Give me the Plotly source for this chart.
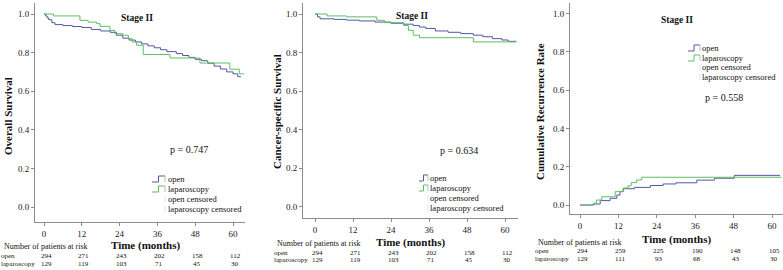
import plotly.graph_objects as go

W, H = 783, 270

# ---------------- data ----------------
months = [0, 12, 24, 36, 48, 60]

os_open_t = [0, 0.5, 1, 1.5, 2.5, 3.5, 6, 9, 12, 15, 18, 21, 23, 25, 27, 29, 31, 33, 35, 37, 39, 42, 44, 46, 48, 50, 52, 54, 56, 58, 60, 61.5, 62.5]
os_open_s = [1.0, 0.99, 0.98, 0.97, 0.955, 0.945, 0.94, 0.935, 0.93, 0.92, 0.912, 0.905, 0.89, 0.875, 0.865, 0.855, 0.845, 0.835, 0.825, 0.815, 0.805, 0.795, 0.785, 0.775, 0.765, 0.758, 0.745, 0.73, 0.715, 0.70, 0.69, 0.675, 0.675]
os_lap_t = [0, 3, 11.4, 14, 16.7, 17.8, 20.9, 22.5, 25, 26.8, 28, 29.4, 31.5, 40, 49.5, 59, 62, 63.5]
os_lap_s = [1.0, 0.99, 0.967, 0.958, 0.95, 0.936, 0.915, 0.898, 0.89, 0.872, 0.855, 0.838, 0.79, 0.772, 0.746, 0.714, 0.69, 0.69]

css_open_t = [0, 0.8, 1.6, 6, 10, 14, 19, 24, 28, 31, 33, 35, 38, 42, 46, 50, 53, 56, 59, 61, 63.5]
css_open_s = [1.0, 0.985, 0.975, 0.972, 0.968, 0.964, 0.958, 0.952, 0.947, 0.94, 0.932, 0.925, 0.912, 0.905, 0.898, 0.89, 0.882, 0.872, 0.865, 0.858, 0.855]
css_lap_t = [0, 3.8, 10, 19.5, 22, 28, 29.5, 31, 33, 50, 63.5]
css_lap_s = [1.0, 0.99, 0.985, 0.967, 0.955, 0.94, 0.915, 0.89, 0.877, 0.855, 0.855]

rec_open_t = [0, 4, 6.3, 9.4, 11.5, 12.5, 13.5, 17, 22, 26, 30, 36.5, 42, 48.2, 62.5]
rec_open_s = [0, 0.005, 0.023, 0.035, 0.052, 0.07, 0.085, 0.092, 0.102, 0.11, 0.116, 0.13, 0.14, 0.155, 0.155]
rec_lap_t = [0, 4.5, 5.2, 6.8, 11, 13.5, 15, 16, 17.7, 19.3, 63]
rec_lap_s = [0, 0.01, 0.026, 0.043, 0.07, 0.089, 0.10, 0.117, 0.131, 0.145, 0.145]

risk_os_open = [294, 271, 243, 202, 158, 112]
risk_os_lap = [129, 119, 103, 71, 45, 30]
risk_css_open = [294, 271, 243, 202, 158, 112]
risk_css_lap = [129, 119, 103, 71, 45, 30]
risk_rec_open = [294, 259, 225, 190, 148, 105]
risk_rec_lap = [129, 111, 93, 68, 43, 30]

ytitles = ["Overall Survival", "Cancer-specific Survival", "Cumulative Recurrence Rate"]
pvals = ["p = 0.747", "p = 0.634", "p = 0.558"]
legend_names = ["open", "laparoscopy", "open censored", "laparoscopy censored"]

C_OPEN = "#5257a6"
C_LAP = "#5cbf62"
FONT = "Liberation Serif"
AX = "#8c8c8c"


def px(x):
    return x / W


def py(y):
    return 1 - y / H


def txt(text, x, y, size, xanchor="center", xref="paper", **kw):
    d = dict(text=text, x=x, y=y, xref=xref, yref="paper", showarrow=False,
             xanchor=xanchor, yanchor="middle", borderpad=0,
             font=dict(family=FONT, size=size, color="#111"))
    d.update(kw)
    return d


# panel geometry in pixels
panels = [
    dict(xd=(35, 245), t0=44, ppm=3.15, yd=(3, 222), y0=207, ppu=193,
         series=[(os_open_t, os_open_s), (os_lap_t, os_lap_s)],
         risk=(risk_os_open, risk_os_lap), risk_y=(246, 256, 263.5), risk_lx=0, time_xy=(145, 245),
         ytitle_x=8, ytitle_y=116, stage=(137, 18), p=(189, 149),
         leg=dict(gx=(152, 165), tx=167, ys=(179, 189, 199, 209))),
    dict(xd=(303, 518), t0=315, ppm=3.167, yd=(3, 218), y0=206.5, ppu=192.5,
         series=[(css_open_t, css_open_s), (css_lap_t, css_lap_s)],
         risk=(risk_css_open, risk_css_lap), risk_y=(243, 252.5, 260), risk_lx=273, time_xy=(410, 242),
         ytitle_x=277, ytitle_y=112, stage=(412, 16), p=(459, 150),
         leg=dict(gx=(419, 428), tx=429, ys=(178, 188, 198, 208))),
    dict(xd=(570, 783), t0=580, ppm=3.2, yd=(3, 214), y0=205, ppu=191.3,
         series=[(rec_open_t, rec_open_s), (rec_lap_t, rec_lap_s)],
         risk=(risk_rec_open, risk_rec_lap), risk_y=(242, 251, 258.5), risk_lx=534, time_xy=(676, 239),
         ytitle_x=540, ytitle_y=112, stage=(677, 20), p=(724, 97),
         leg=dict(gx=(688, 700), tx=701, ys=(48, 58, 67, 77))),
]

fig = go.Figure()
annotations = []
shapes = []
layout = dict(width=W, height=H, margin=dict(l=0, r=0, t=0, b=0, pad=0),
              paper_bgcolor="white", plot_bgcolor="white", showlegend=False,
              font=dict(family=FONT, size=9, color="#222"))

for i, p in enumerate(panels):
    k = "" if i == 0 else str(i + 1)
    xa, ya = "x" + k, "y" + k
    xr = [(p["xd"][0] - p["t0"]) / p["ppm"], (p["xd"][1] - p["t0"]) / p["ppm"]]
    yr = [(p["y0"] - p["yd"][1]) / p["ppu"], (p["y0"] - p["yd"][0]) / p["ppu"]]
    layout["xaxis" + k] = dict(domain=[px(p["xd"][0]), px(p["xd"][1])], range=xr, anchor=ya,
                               tickvals=months, ticks="outside", ticklen=3, tickcolor=AX,
                               showline=True, linecolor=AX, linewidth=1, showgrid=False, zeroline=False,
                               tickfont=dict(family=FONT, size=9, color="#222"))
    layout["yaxis" + k] = dict(domain=[py(p["yd"][1]), py(p["yd"][0])], range=yr, anchor=xa,
                               tickvals=[0, 0.2, 0.4, 0.6, 0.8, 1.0], tickformat=".1f",
                               ticks="outside", ticklen=3, tickcolor=AX,
                               showline=True, linecolor=AX, linewidth=1, showgrid=False, zeroline=False,
                               tickfont=dict(family=FONT, size=9, color="#222"))
    for (t, s), c, nm in zip(p["series"], [C_OPEN, C_LAP], legend_names[:2]):
        fig.add_trace(go.Scatter(x=t, y=s, mode="lines", line=dict(color=c, width=1, shape="hv"),
                                 name=nm, xaxis=xa, yaxis=ya, hoverinfo="skip"))

    # texts
    annotations.append(txt("<b>" + ytitles[i] + "</b>", px(p["ytitle_x"]), py(p["ytitle_y"]), 11, textangle=-90))
    annotations.append(txt("<b>Stage II</b>", px(p["stage"][0]), py(p["stage"][1]), 9.5))
    annotations.append(txt(pvals[i], px(p["p"][0]), py(p["p"][1]), 10))
    annotations.append(txt("<b>Time (months)</b>", px(p["time_xy"][0]), py(p["time_xy"][1]), 11))
    # risk table
    ry = p["risk_y"]
    annotations.append(txt("Number of patients at risk", px(p["risk_lx"] + 3), py(ry[0]), 8, xanchor="left"))
    for lab, row, yy in zip(["open", "laparoscopy"], p["risk"], ry[1:]):
        annotations.append(txt(lab, px(p["risk_lx"]), py(yy), 7, xanchor="left"))
        for t, v in zip(months, row):
            annotations.append(txt(str(v), t, py(yy), 7, xref=xa, xshift=2))
    # legend
    lg = p["leg"]
    gx0, gx1 = lg["gx"]
    gm = (gx0 + gx1) / 2
    for j, nm in enumerate(legend_names):
        yy = lg["ys"][j]
        annotations.append(txt(nm, px(lg["tx"]), py(yy), 8.5, xanchor="left"))
        if j < 2:
            c = [C_OPEN, C_LAP][j]
            path = "M %f,%f L %f,%f L %f,%f L %f,%f" % (px(gx0), py(yy + 3), px(gm), py(yy + 3),
                                                       px(gm), py(yy - 3), px(gx1), py(yy - 3))
            shapes.append(dict(type="path", path=path, xref="paper", yref="paper",
                               line=dict(color=c, width=1)))
            shapes.append(dict(type="line", x0=px(gx1), x1=px(gx1), y0=py(yy - 3), y1=py(yy + 3),
                               xref="paper", yref="paper", line=dict(color="#bbbbbb", width=1)))
        else:
            shapes.append(dict(type="line", x0=px(gx1), x1=px(gx1), y0=py(yy - 3), y1=py(yy + 3),
                               xref="paper", yref="paper", line=dict(color="#e2e2e2", width=1)))

layout["annotations"] = annotations
layout["shapes"] = shapes
fig.update_layout(**layout)
fig.write_html("out.html", config={"displayModeBar": False, "staticPlot": True},
               post_script="document.body.style.margin='0';document.body.style.padding='0';"
                           "document.documentElement.style.overflow='hidden';")
